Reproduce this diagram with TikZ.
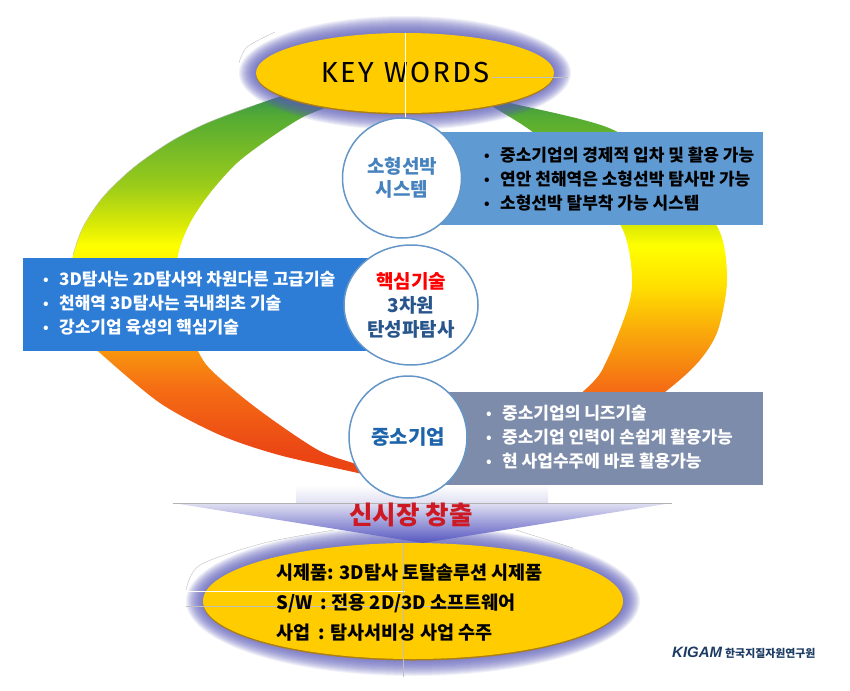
\documentclass[tikz,border=0pt]{standalone}
\usepackage{fontspec}
\setmainfont{Noto Sans CJK KR}
\newfontfamily\keyfont{Fira Sans}[LetterSpace=8]
\newfontfamily\logofont{Liberation Sans}
\usetikzlibrary{shapes.geometric,shadows}
\definecolor{goldfill}{RGB}{255,204,0}
\definecolor{goldrim}{RGB}{170,125,25}
\definecolor{glowblue}{RGB}{95,95,185}
\definecolor{shipblue}{RGB}{95,155,210}
\definecolor{coreblue}{RGB}{45,125,215}
\definecolor{smegray}{RGB}{125,140,170}
\definecolor{ringline}{RGB}{100,150,200}
\definecolor{shiptext}{RGB}{70,130,190}
\definecolor{coretext}{RGB}{40,85,140}
\definecolor{smetext}{RGB}{30,100,170}
\definecolor{marketred}{RGB}{205,25,35}
\pgfdeclareverticalshading{ringshade}{100bp}{rgb(0bp)=(.92,.27,.08);rgb(28.2bp)=(.92,.27,.08);rgb(36.8bp)=(.96,.43,.08);rgb(44.2bp)=(.98,.67,.04);rgb(50bp)=(1,.88,0);rgb(55.1bp)=(1,1,0);rgb(57.7bp)=(.86,.92,.02);rgb(62.8bp)=(.61,.80,.10);rgb(71.8bp)=(.33,.67,.20);rgb(74.4bp)=(.22,.58,.30);rgb(100bp)=(.22,.58,.30)}
\tikzset{
	goldoval/.style = {ellipse,fill=goldfill,inner sep=0,drop shadow={shadow xshift=0pt,shadow yshift=-1.5pt,fill=goldrim,opacity=1}},
	glow/.style = {fill=glowblue,fill opacity=0.09},
	topiccircle/.style = {ellipse,draw=ringline,line width=1.5pt,fill=white,inner sep=0,align=center,font=\fontsize{19}{24}\selectfont\bfseries},
	infobox/.style = {rectangle,inner sep=0,minimum height=93pt},
	bulletlist/.style = {anchor=west,inner sep=0,align=left,font=\fontsize{17}{24}\selectfont\bfseries},
	ovallist/.style = {anchor=west,inner sep=0,align=left,font=\fontsize{18.5}{30}\selectfont\bfseries},
	seam/.style = {line width=0.4pt,draw=gray!50}
}
\newcommand{\bul}{\hbox to 16pt{\raisebox{1pt}{\fontsize{14}{14}\selectfont\textbullet}\hfil}}
\begin{document}
\begin{tikzpicture}[x=1pt,y=-1pt]
	\useasboundingbox (0,0) rectangle (850,690);
	\shade[shading=ringshade] plot[smooth cycle] coordinates {(300,92) (255,105) (207,123) (170,142) (133,168) (103,197) (83,227) (73,255) (66,295) (76,330) (100,353) (160,403) (220,435) (279,455) (358,473) (380,478) (358,465) (318,450) (259,410) (211,370) (195,345) (175,300) (178,255) (190,223) (210,193) (237,163) (270,138) (303,117) (340,100)}
		plot[smooth cycle] coordinates {(470,92) (506,102) (609,128) (670,170) (718,228) (727,280) (718,330) (700,360) (670,388) (600,440) (500,462) (587,388) (607,360) (628,307) (632,275) (622,228) (580,170) (530,130) (490,105)};
	\draw[seam] plot[smooth] coordinates {(255,105) (207,123) (170,142) (133,168) (103,197) (83,227) (73,255)};
	\draw[seam] plot[smooth] coordinates {(239,63) (247,47) (275,32)};
	\draw[seam] plot[smooth] coordinates {(186,590) (200,565) (264,543) (334,530)};
	\draw[seam] plot[smooth] coordinates {(516,530) (573,548)};
	\coordinate (keyc) at (405,73);
	\coordinate (productc) at (413,601);
	\foreach \g in {17,16,...,1} {
		\fill[glow] (keyc) ellipse ({149+\g} and {40+\g});
		\fill[glow] (productc) ellipse ({210+\g} and {58+\g});
	}
	\node[goldoval,minimum width=298pt,minimum height=80pt] (keywords) at (keyc) {\raisebox{-3pt}{\keyfont\fontsize{29}{30}\selectfont KEY~WORDS}};
	\node[goldoval,minimum width=420pt,minimum height=116pt] (product) at (productc) {};
	\draw[white,line width=0.5pt] (405,33) -- (405,118);
	\draw[seam] (492,77) -- (568,77);
	\draw[white,line width=0.5pt] (186,591) -- (405,591);
	\draw[seam] (186,606) -- (480,606);
	\draw[seam] (403,543) -- (403,677);
	\shade[top color=white,bottom color=blue!60!black!12] (296,485) rectangle (548,503);
	\shade[top color=blue!60!black!12,bottom color=glowblue!90!blue] (173,503) -- (672,503) -- (423,543) -- cycle;
	\draw[gray!60,line width=0.5pt] (173,503) -- (672,503);
	\node[infobox,fill=shipblue,anchor=north east,minimum width=330pt] (shipbox) at (763,132) {};
	\node[infobox,fill=coreblue,anchor=north west,minimum width=380pt] (corebox) at (23,258) {};
	\node[infobox,fill=smegray,anchor=north east,minimum width=340pt] (smebox) at (763,392) {};
	\node[topiccircle,minimum width=119pt,minimum height=120pt,text=shiptext] (ship) at (402,178) {\raisebox{-1pt}{소형선박}\\시스템};
	\node[topiccircle,minimum width=134pt,minimum height=120pt,text=coretext] (core) at (411,305) {\textcolor{red}{핵심기술}\\3차원\\탄성파탐사};
	\node[topiccircle,minimum width=118pt,minimum height=122pt,text=smetext,font=\fontsize{20}{24}\selectfont\bfseries] (sme) at (408,437) {중소기업};
	\node[bulletlist] (shiplist) at (484,179) {\bul 중소기업의 경제적 입차 및 활용 가능\\\bul 연안 천해역은 소형선박 탐사만 가능\\\bul 소형선박 탈부착 가능 시스템};
	\node[bulletlist,text=white] (corelist) at (43,303) {\bul 3D탐사는 2D탐사와 차원다른 고급기술\\\bul 천해역 3D탐사는 국내최초 기술\\\bul 강소기업 육성의 핵심기술};
	\node[bulletlist,text=white] (smelist) at (486,437) {\bul 중소기업의 니즈기술\\\bul 중소기업 인력이 손쉽게 활용가능\\\bul 현 사업수주에 바로 활용가능};
	\node[font=\fontsize{25.5}{27}\selectfont\bfseries,text=marketred,inner sep=0] (market) at (411,515) {신시장 창출};
	\node[ovallist] (productlist) at (276,603) {시제품: 3D탐사 토탈솔루션 시제품\\S/W~~: 전용 2D/3D 소프트웨어\\사업~~: 탐사서비싱 사업 수주};
	\node[anchor=west,inner sep=0,text=coretext!70!black] (logo) at (672,653) {\logofont\bfseries\itshape\fontsize{15}{16}\selectfont KIGAM\hspace{3pt}\normalfont\bfseries\fontsize{10.9}{12}\selectfont 한국지질자원연구원};
\end{tikzpicture}
\end{document}
